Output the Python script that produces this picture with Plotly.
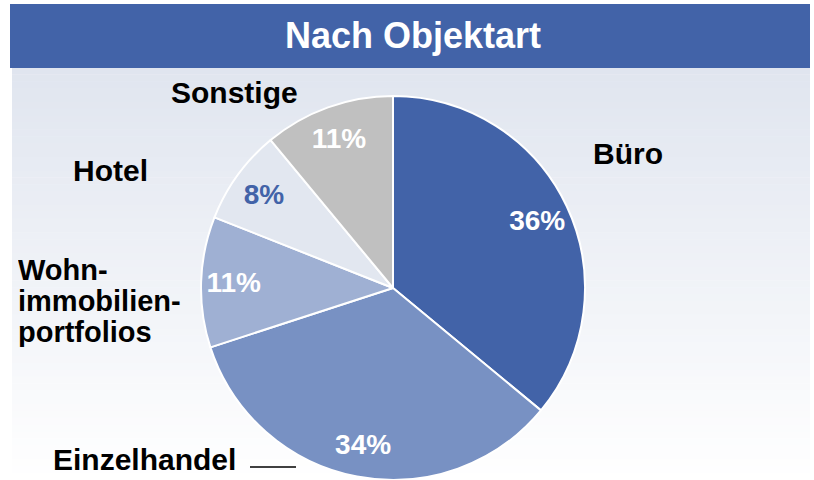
import plotly.graph_objects as go

W, H = 814, 480

categories = ["Büro", "Einzelhandel", "Wohnimmobilienportfolios", "Hotel", "Sonstige"]
values = [36, 34, 11, 8, 11]
pct_labels = ["36%", "34%", "11%", "8%", "11%"]
slice_colors = ["#4263a8", "#7891c3", "#9fb0d3", "#e2e7f0", "#c0c0c0"]
text_colors = ["#ffffff", "#ffffff", "#ffffff", "#4263a8", "#ffffff"]
title_text = "Nach Objektart"
wohn_lines = ["Wohn-", "immobilien-", "portfolios"]

FONT = "Liberation Sans, Arial, sans-serif"

def px(x):
    return x / W

def py(y):
    return 1 - y / H

shapes = []
# gradient background
top, bottom = 68, 480
n = 60
c0 = (224, 229, 239)
c1 = (255, 255, 255)
for i in range(n):
    y0 = top + (bottom - top) * i / n
    y1 = top + (bottom - top) * (i + 1) / n
    t = (i + 0.5) / n
    c = tuple(round(a + (b - a) * t) for a, b in zip(c0, c1))
    shapes.append(dict(type="rect", xref="paper", yref="paper",
                       x0=px(12), x1=px(810), y0=py(y1), y1=py(y0) + 0.001,
                       fillcolor="rgb(%d,%d,%d)" % c, line=dict(width=0), layer="below"))
# title bar
shapes.append(dict(type="rect", xref="paper", yref="paper",
                   x0=px(10), x1=px(810), y0=py(68), y1=py(4),
                   fillcolor="#4263a8", line=dict(width=0), layer="below"))
# leader line for Einzelhandel
shapes.append(dict(type="line", xref="paper", yref="paper",
                   x0=px(250), x1=px(296), y0=py(467), y1=py(467),
                   line=dict(color="#000000", width=1.5)))

R = 192
cx, cy = 393, 288
dom = dict(x=[px(cx - R), px(cx + R)], y=[max(0.0, py(cy + R)), py(cy - R)])

# filled pie
fig = go.Figure(go.Pie(
    labels=categories, values=values,
    textinfo="none", sort=False, direction="clockwise", rotation=0,
    marker=dict(colors=slice_colors, line=dict(color="#ffffff", width=2)),
    domain=dom, hoverinfo="label+percent", showlegend=False,
))
# transparent ring carrying the percentage labels
fig.add_trace(go.Pie(
    labels=categories, values=values, text=["<b>%s</b>" % s for s in pct_labels],
    textinfo="text", textposition="inside", insidetextorientation="horizontal",
    sort=False, direction="clockwise", rotation=0, hole=0.66,
    marker=dict(colors=["rgba(0,0,0,0)"] * len(values), line=dict(width=0)),
    textfont=dict(family=FONT, size=28, color=text_colors),
    domain=dom, hoverinfo="skip", showlegend=False,
))

lab_font = dict(family=FONT, size=30, color="#000000")

def lab(text, x, y, anchor="center", size=30, h=None):
    d = dict(text="<b>%s</b>" % text, x=px(x), y=py(y), xref="paper", yref="paper",
             showarrow=False, font=dict(lab_font, size=size), xanchor=anchor, yanchor="middle")
    if h:
        d["height"] = h
    return d

annotations = [
    dict(text="<b>%s</b>" % title_text, x=px(413), y=py(36), xref="paper", yref="paper",
         showarrow=False, font=dict(family=FONT, size=36, color="#ffffff"),
         xanchor="center", yanchor="middle"),
    lab("Büro", 628, 153),
    lab("Sonstige", 235, 93),
    lab("Hotel", 110, 170),
    lab("Einzelhandel", 144, 459),
]
for k, line in enumerate(wohn_lines):
    annotations.append(lab(line, 16, 270 + 31 * k, "left", size=29, h=30))

fig.update_layout(
    width=W, height=H,
    margin=dict(l=0, r=0, t=0, b=0),
    paper_bgcolor="#ffffff", plot_bgcolor="#ffffff",
    shapes=shapes, annotations=annotations,
)

fig.write_html("out.html", config={"displayModeBar": False},
               post_script="document.body.style.margin='0';document.body.style.overflow='hidden';")
